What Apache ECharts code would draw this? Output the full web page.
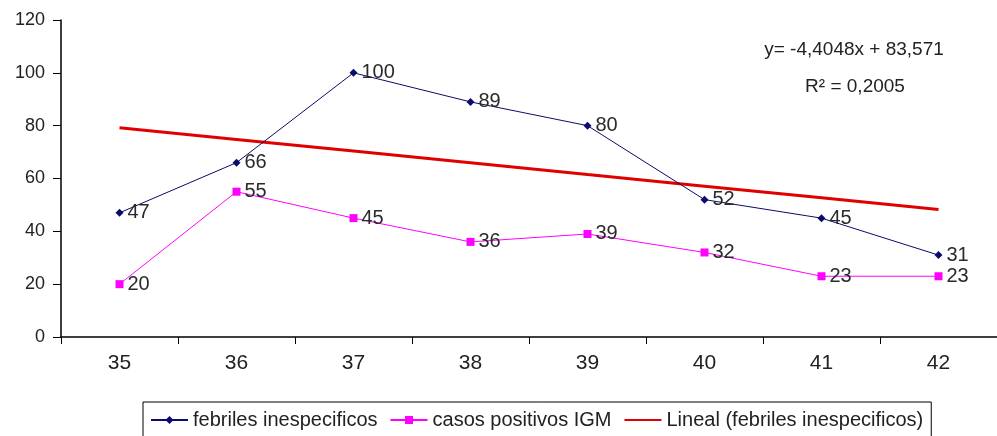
<!DOCTYPE html>
<html>
<head>
<meta charset="utf-8">
<script src="https://cdn.jsdelivr.net/npm/echarts@6/dist/echarts.min.js"></script>
<style>
  html, body { margin: 0; padding: 0; background: #fff; }
  #chart { width: 997px; height: 436px; }
</style>
</head>
<body>
<div id="chart"></div>
<script>
const weeks = ['35', '36', '37', '38', '39', '40', '41', '42']
const febriles = [47, 66, 100, 89, 80, 52, 45, 31]
const casosIgm = [20, 55, 45, 36, 39, 32, 23, 23]
// tendencia lineal
const lineal = [79.2, 74.8, 70.4, 66.0, 61.5, 57.1, 52.7, 48.3]
const yTicks = [0, 20, 40, 60, 80, 100, 120]

const font = 'Liberation Sans, Arial, sans-serif'

const chart = echarts.init(document.getElementById('chart'))

const labelStyle = {
  show: true,
  position: 'right',
  distance: 4,
  color: '#2a2a2a',
  fontSize: 20,
  fontFamily: font
}

chart.setOption({
  animation: false,
  grid: { left: 61, top: 20, right: -9, bottom: 99 },
  legend: {
    left: 143,
    top: 402,
    width: 850,
    padding: [8, 8, 20, 7],
    itemGap: 12,
    itemWidth: 37,
    itemHeight: 10,
    borderColor: '#000',
    borderWidth: 1,
    textStyle: { fontSize: 20, fontFamily: font, color: '#222' },
    data: [
      'febriles inespecificos',
      'casos positivos IGM',
      { name: 'Lineal (febriles inespecificos)', itemStyle: { opacity: 0 } }
    ]
  },
  xAxis: {
    type: 'category',
    data: weeks,
    boundaryGap: true,
    axisLine: { lineStyle: { color: '#000', width: 1.5 } },
    axisTick: { show: true, length: 7, lineStyle: { color: '#000' } },
    axisLabel: { fontSize: 21, fontFamily: font, color: '#222', margin: 16 }
  },
  yAxis: {
    type: 'value',
    min: yTicks[0],
    max: yTicks[yTicks.length - 1],
    interval: 20,
    splitLine: { show: false },
    axisLine: { show: true, lineStyle: { color: '#000', width: 1.5 } },
    axisTick: { show: true, length: 8, lineStyle: { color: '#000' } },
    axisLabel: { fontSize: 18, fontFamily: font, color: '#222', margin: 16 }
  },
  graphic: [
    {
      type: 'text', x: 854, y: 50,
      style: { text: 'y= -4,4048x + 83,571', fontSize: 19, fontFamily: font, fill: '#222', align: 'center', verticalAlign: 'middle' }
    },
    {
      type: 'text', x: 855, y: 87,
      style: { text: 'R\u00b2 = 0,2005', fontSize: 19, fontFamily: font, fill: '#222', align: 'center', verticalAlign: 'middle' }
    }
  ],
  series: [
    {
      name: 'Lineal (febriles inespecificos)',
      type: 'line',
      data: lineal,
      symbol: 'none',
      lineStyle: { color: '#e00000', width: 3 },
      itemStyle: { color: '#e00000' },
      z: 1
    },
    {
      name: 'febriles inespecificos',
      type: 'line',
      data: febriles,
      symbol: 'diamond',
      symbolSize: 8,
      lineStyle: { color: '#0b0b6b', width: 1 },
      itemStyle: { color: '#0b0b6b' },
      label: labelStyle,
      z: 3
    },
    {
      name: 'casos positivos IGM',
      type: 'line',
      data: casosIgm,
      symbol: 'rect',
      symbolSize: 8,
      lineStyle: { color: '#ff00ff', width: 1 },
      itemStyle: { color: '#ff00ff' },
      label: labelStyle,
      z: 3
    }
  ]
})
</script>
</body>
</html>
